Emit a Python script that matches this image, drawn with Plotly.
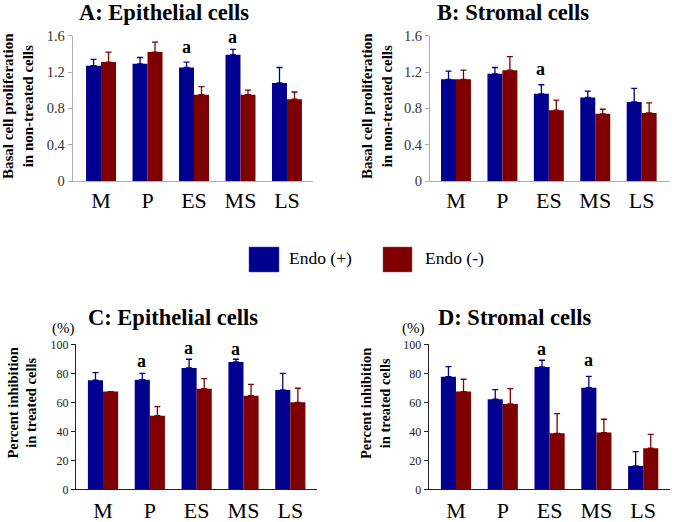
import plotly.graph_objects as go

categories = ["M", "P", "ES", "MS", "LS"]

# Panel A: basal proliferation, epithelial cells
a_pos_mean = [1.27, 1.29, 1.25, 1.39, 1.08]
a_pos_se = [0.07, 0.07, 0.06, 0.06, 0.17]
a_neg_mean = [1.31, 1.42, 0.95, 0.95, 0.90]
a_neg_se = [0.11, 0.11, 0.09, 0.05, 0.08]
a_sig = {"ES": 1.48, "MS": 1.59}

# Panel B: basal proliferation, stromal cells
b_pos_mean = [1.12, 1.18, 0.96, 0.92, 0.87]
b_pos_se = [0.09, 0.07, 0.10, 0.07, 0.15]
b_neg_mean = [1.12, 1.22, 0.78, 0.74, 0.75]
b_neg_se = [0.10, 0.15, 0.11, 0.05, 0.11]
b_sig = {"ES": 1.23}

# Panel C: percent inhibition, epithelial cells
c_pos_mean = [75.2, 75.6, 83.7, 87.8, 68.5]
c_pos_se = [5.3, 4.4, 6.0, 1.9, 11.5]
c_neg_mean = [67.4, 50.8, 69.4, 64.6, 60.0]
c_neg_se = [0.0, 6.2, 6.9, 7.8, 9.7]
c_sig = {"P": 88.5, "ES": 97.2, "MS": 96.6}

# Panel D: percent inhibition, stromal cells
d_pos_mean = [77.7, 62.1, 84.4, 70.1, 16.1]
d_pos_se = [6.9, 6.6, 4.6, 7.8, 9.9]
d_neg_mean = [67.4, 58.9, 38.6, 39.1, 28.3]
d_neg_se = [8.5, 10.5, 13.6, 9.2, 9.6]
d_sig = {"ES": 96.6, "MS": 89.2}

series_names = ["Endo (+)", "Endo (-)"]
BLUE = "#00008f"
RED = "#7f0000"
SERIF = "Liberation Serif, serif"

W, H = 675, 522

def px(x):
    return x / W

def py(y):
    return 1 - y / H

panels = [
    dict(key="", pos=(a_pos_mean, a_pos_se), neg=(a_neg_mean, a_neg_se), sig=a_sig,
         xd=(72.7, 313), yd=(181, 35.7), xr=(-0.61, 4.56), yr=(0, 1.6), dtick=0.4,
         tickfs=14.5, axcol="#b0b0b0", tickcol="#333333", standoff=0,
         title="A: Epithelial cells", tx=164, ty=13, ytfs=15,
         ytitle="Basal cell proliferation<br>in non-treated cells", ytx=18, yty=106),
    dict(key="2", pos=(b_pos_mean, b_pos_se), neg=(b_neg_mean, b_neg_se), sig=b_sig,
         xd=(430, 670), yd=(181, 35.7), xr=(-0.56, 4.61), yr=(0, 1.6), dtick=0.4,
         tickfs=14.5, axcol="#b0b0b0", tickcol="#333333", standoff=0,
         title="B: Stromal cells", tx=513, ty=13, ytfs=15,
         ytitle="Basal cell proliferation<br>in non-treated cells", ytx=377, yty=106),
    dict(key="3", pos=(c_pos_mean, c_pos_se), neg=(c_neg_mean, c_neg_se), sig=c_sig,
         xd=(76, 317), yd=(489.3, 344.3), xr=(-0.577, 4.57), yr=(0, 100), dtick=20,
         tickfs=12, axcol="#222222", tickcol="#222222", standoff=1,
         title="C: Epithelial cells", tx=173, ty=317, ytfs=14.5,
         ytitle="Percent inhibition<br>in treated cells", ytx=22, yty=403.5,
         pct=(63, 328)),
    dict(key="4", pos=(d_pos_mean, d_pos_se), neg=(d_neg_mean, d_neg_se), sig=d_sig,
         xd=(428.7, 670), yd=(489.3, 344.3), xr=(-0.583, 4.573), yr=(0, 100), dtick=20,
         tickfs=12, axcol="#222222", tickcol="#222222", standoff=1,
         title="D: Stromal cells", tx=515, ty=317, ytfs=14.5,
         ytitle="Percent inhibition<br>in treated cells", ytx=375.5, yty=403.5,
         pct=(414, 328)),
]

fig = go.Figure()
annotations = []
layout = {}

for p in panels:
    k = p["key"]
    xa = "x" + k
    ya = "y" + k
    for (mean, se), name, col in [(p["pos"], series_names[0], BLUE), (p["neg"], series_names[1], RED)]:
        fig.add_trace(go.Bar(
            x=categories, y=mean, name=name, marker=dict(color=col, line=dict(width=0)),
            error_y=dict(type="data", symmetric=False, array=se, arrayminus=[0] * len(se),
                         color=col, thickness=1.3, width=3),
            xaxis=xa, yaxis=ya, showlegend=False,
        ))
    layout["xaxis" + k] = dict(
        domain=[px(p["xd"][0]), px(p["xd"][1])], anchor=ya, range=list(p["xr"]),
        type="category", showline=True, linecolor=p["axcol"], linewidth=1,
        ticks="", showgrid=False, zeroline=False, automargin=False,
        tickfont=dict(family=SERIF, size=22, color="#000000"), ticklabelstandoff=p["standoff"],
    )
    layout["yaxis" + k] = dict(
        domain=[py(p["yd"][0]), py(p["yd"][1])], anchor=xa, range=list(p["yr"]),
        dtick=p["dtick"], showline=True, linecolor=p["axcol"], linewidth=1,
        ticks="outside", ticklen=4, tickcolor=p["axcol"], showgrid=False, zeroline=False,
        automargin=False,
        tickfont=dict(family=SERIF, size=p["tickfs"], color=p["tickcol"]),
    )
    annotations.append(dict(
        text="<b>" + p["title"] + "</b>", x=px(p["tx"]), y=py(p["ty"]), xref="paper", yref="paper",
        showarrow=False, xanchor="center", yanchor="middle",
        font=dict(family=SERIF, size=22.5, color="#000000"),
    ))
    annotations.append(dict(
        text="<b>" + p["ytitle"] + "</b>", x=px(p["ytx"]), y=py(p["yty"]), xref="paper", yref="paper",
        showarrow=False, xanchor="center", yanchor="middle", textangle=-90,
        font=dict(family=SERIF, size=p["ytfs"], color="#000000"),
    ))
    if "pct" in p:
        annotations.append(dict(
            text="(%)", x=px(p["pct"][0]), y=py(p["pct"][1]), xref="paper", yref="paper",
            showarrow=False, xanchor="center", yanchor="middle",
            font=dict(family=SERIF, size=15, color="#000000"),
        ))
    for cat, yv in p["sig"].items():
        annotations.append(dict(
            text="<b>a</b>", x=categories.index(cat) - 0.17, y=yv, xref=xa, yref=ya,
            showarrow=False, xanchor="center", yanchor="middle",
            font=dict(family=SERIF, size=18, color="#000000"),
        ))

# Legend drawn as swatches + labels
legend_items = [(series_names[0], BLUE, 249, 279, 287), (series_names[1], RED, 383, 412, 423)]
shapes = []
for name, col, x0, x1, tx in legend_items:
    shapes.append(dict(type="rect", xref="paper", yref="paper",
                       x0=px(x0), x1=px(x1), y0=py(272), y1=py(247),
                       fillcolor=col, line=dict(color="#4a4ab0" if col == BLUE else "#a05050", width=0.5)))
    annotations.append(dict(text=name, x=px(tx), y=py(258), xref="paper", yref="paper",
                            showarrow=False, xanchor="left", yanchor="middle",
                            font=dict(family=SERIF, size=17.5, color="#000000")))

fig.update_layout(
    width=W, height=H, margin=dict(l=0, r=0, t=0, b=0),
    paper_bgcolor="white", plot_bgcolor="white",
    barmode="group", bargap=0.355, bargroupgap=0,
    annotations=annotations, shapes=shapes, showlegend=False,
    **layout,
)

fig.write_html("out.html", config={"displayModeBar": False},
               post_script="document.body.style.margin='0';")
